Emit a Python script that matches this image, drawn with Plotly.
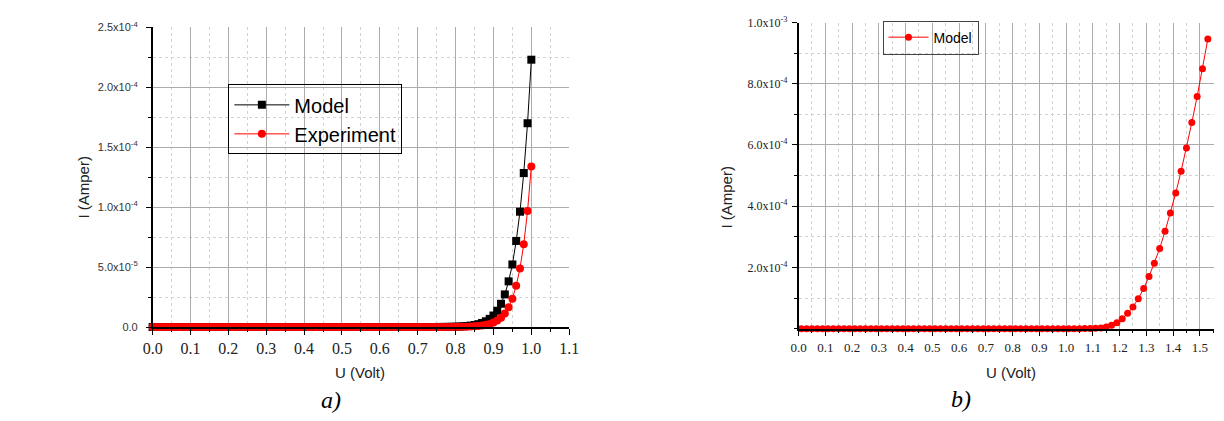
import plotly.graph_objects as go

# ---------------- data: panel a) ----------------
U_a = [0.00, 0.01, 0.02, 0.03, 0.04, 0.05, 0.06, 0.07, 0.08, 0.09,
       0.10, 0.11, 0.12, 0.13, 0.14, 0.15, 0.16, 0.17, 0.18, 0.19,
       0.20, 0.21, 0.22, 0.23, 0.24, 0.25, 0.26, 0.27, 0.28, 0.29,
       0.30, 0.31, 0.32, 0.33, 0.34, 0.35, 0.36, 0.37, 0.38, 0.39,
       0.40, 0.41, 0.42, 0.43, 0.44, 0.45, 0.46, 0.47, 0.48, 0.49,
       0.50, 0.51, 0.52, 0.53, 0.54, 0.55, 0.56, 0.57, 0.58, 0.59,
       0.60, 0.61, 0.62, 0.63, 0.64, 0.65, 0.66, 0.67, 0.68, 0.69,
       0.70, 0.71, 0.72, 0.73, 0.74, 0.75, 0.76, 0.77, 0.78, 0.79,
       0.80, 0.81, 0.82, 0.83, 0.84, 0.85, 0.86, 0.87, 0.88, 0.89,
       0.90, 0.91, 0.92, 0.93, 0.94, 0.95, 0.96, 0.97, 0.98, 0.99,
       1.00]

I_model_a = [0.0, 0.0, 0.0, 0.0, 0.0, 0.0, 0.0, 0.0, 0.0, 0.0,
             0.0, 0.0, 0.0, 0.0, 0.0, 0.0, 0.0, 0.0, 0.0, 0.0,
             0.0, 0.0, 0.0, 0.0, 0.0, 0.0, 0.0, 0.0, 0.0, 0.0,
             0.0, 0.0, 0.0, 0.0, 0.0, 0.0, 0.0, 0.0, 0.0, 0.0,
             0.0, 0.0, 0.0, 0.0, 0.0, 0.0, 0.0, 0.0, 0.0, 0.0,
             0.0, 0.0, 0.0, 0.0, 0.0, 0.0, 0.0, 0.0, 0.0, 0.0,
             0.0, 0.0, 0.0, 0.0, 0.0, 0.0, 0.0, 0.0, 0.0, 0.0,
             0.0, 0.0, 0.0, 0.0, 0.0, 5.0e-8, 7.0e-8, 1.0e-7, 1.5e-7, 2.1e-7,
             3.0e-7, 4.2e-7, 6.0e-7, 8.5e-7, 1.2e-6, 1.7e-6, 2.4e-6, 3.4e-6, 4.8e-6, 6.8e-6,
             9.6e-6, 1.36e-5, 1.94e-5, 2.72e-5, 3.81e-5, 5.22e-5, 7.18e-5, 9.62e-5, 1.285e-4, 1.70e-4,
             2.23e-4]

I_exp_a = [0.0, 0.0, 0.0, 0.0, 0.0, 0.0, 0.0, 0.0, 0.0, 0.0,
           0.0, 0.0, 0.0, 0.0, 0.0, 0.0, 0.0, 0.0, 0.0, 0.0,
           0.0, 0.0, 0.0, 0.0, 0.0, 0.0, 0.0, 0.0, 0.0, 0.0,
           0.0, 0.0, 0.0, 0.0, 0.0, 0.0, 0.0, 0.0, 0.0, 0.0,
           0.0, 0.0, 0.0, 0.0, 0.0, 0.0, 0.0, 0.0, 0.0, 0.0,
           0.0, 0.0, 0.0, 0.0, 0.0, 0.0, 0.0, 0.0, 0.0, 0.0,
           0.0, 0.0, 0.0, 0.0, 0.0, 0.0, 0.0, 0.0, 0.0, 0.0,
           0.0, 0.0, 0.0, 0.0, 0.0, 0.0, 0.0, 0.0, 5.0e-8, 7.0e-8,
           1.0e-7, 1.4e-7, 2.0e-7, 2.9e-7, 4.2e-7, 6.0e-7, 8.7e-7, 1.25e-6, 1.8e-6, 2.6e-6,
           3.7e-6, 5.4e-6, 7.8e-6, 1.13e-5, 1.64e-5, 2.36e-5, 3.44e-5, 4.89e-5, 6.91e-5, 9.68e-5,
           1.34e-4]

# ---------------- data: panel b) ----------------
U_b = [0.01, 0.03, 0.05, 0.07, 0.09, 0.11, 0.13, 0.15, 0.17, 0.19,
       0.21, 0.23, 0.25, 0.27, 0.29, 0.31, 0.33, 0.35, 0.37, 0.39,
       0.41, 0.43, 0.45, 0.47, 0.49, 0.51, 0.53, 0.55, 0.57, 0.59,
       0.61, 0.63, 0.65, 0.67, 0.69, 0.71, 0.73, 0.75, 0.77, 0.79,
       0.81, 0.83, 0.85, 0.87, 0.89, 0.91, 0.93, 0.95, 0.97, 0.99,
       1.01, 1.03, 1.05, 1.07, 1.09, 1.11, 1.13, 1.15, 1.17, 1.19,
       1.21, 1.23, 1.25, 1.27, 1.29, 1.31, 1.33, 1.35, 1.37, 1.39,
       1.41, 1.43, 1.45, 1.47, 1.49, 1.51, 1.53]

I_model_b = [0.0, 0.0, 0.0, 0.0, 0.0, 0.0, 0.0, 0.0, 0.0, 0.0,
             0.0, 0.0, 0.0, 0.0, 0.0, 0.0, 0.0, 0.0, 0.0, 0.0,
             0.0, 0.0, 0.0, 0.0, 0.0, 0.0, 0.0, 0.0, 0.0, 0.0,
             0.0, 0.0, 0.0, 0.0, 0.0, 0.0, 0.0, 0.0, 0.0, 0.0,
             0.0, 0.0, 0.0, 0.0, 0.0, 0.0, 0.0, 0.0, 0.0, 0.0,
             0.0, 0.0, 0.0, 1.5e-7, 4.0e-7, 1.0e-6, 2.5e-6, 5.5e-6, 1.1e-5, 1.9e-5,
             3.2e-5, 5.0e-5, 7.1e-5, 9.8e-5, 1.31e-4, 1.70e-4, 2.14e-4, 2.62e-4, 3.18e-4, 3.78e-4,
             4.43e-4, 5.14e-4, 5.90e-4, 6.73e-4, 7.58e-4, 8.49e-4, 9.46e-4]

# ---------------- tick labels ----------------
yvals_a = [0.0, 5.0e-5, 1.0e-4, 1.5e-4, 2.0e-4, 2.5e-4]
ytext_a = ["0.0", "5.0x10<sup>-5</sup>", "1.0x10<sup>-4</sup>", "1.5x10<sup>-4</sup>",
           "2.0x10<sup>-4</sup>", "2.5x10<sup>-4</sup>"]
yvals_b = [2.0e-4, 4.0e-4, 6.0e-4, 8.0e-4, 1.0e-3]
ytext_b = ["2.0x10<sup>-4</sup>", "4.0x10<sup>-4</sup>", "6.0x10<sup>-4</sup>",
           "8.0x10<sup>-4</sup>", "1.0x10<sup>-3</sup>"]

W, H = 1224, 421
SANS = "Liberation Sans, Arial, sans-serif"
SERIF = "Liberation Serif, Times New Roman, serif"


def fx(p):
    return p / W


def fy(p):
    return 1 - p / H


MAJ = "#ababab"
MIN = "#d2d2d2"

fig = go.Figure()

fig.add_trace(go.Scatter(
    x=U_a, y=I_model_a, mode="lines+markers", name="Model",
    line=dict(color="black", width=1),
    marker=dict(symbol="square", size=8, color="black"),
    xaxis="x", yaxis="y", legend="legend", cliponaxis=False))
fig.add_trace(go.Scatter(
    x=U_a, y=I_exp_a, mode="lines+markers", name="Experiment",
    line=dict(color="#ff0000", width=1),
    marker=dict(symbol="circle", size=8, color="#ff0000"),
    xaxis="x", yaxis="y", legend="legend", cliponaxis=False))
fig.add_trace(go.Scatter(
    x=U_b, y=I_model_b, mode="lines+markers", name="Model",
    line=dict(color="#ff0000", width=1),
    marker=dict(symbol="circle", size=7, color="#ff0000"),
    xaxis="x2", yaxis="y2", legend="legend2", cliponaxis=False))


def xax(domain, rng, fsize):
    return dict(domain=domain, range=rng, tick0=0, dtick=0.1, tickformat=".1f",
                showline=True, linecolor="black", linewidth=1.5,
                ticks="outside", ticklen=6, tickwidth=1.2, tickcolor="black",
                showgrid=True, gridcolor=MAJ, gridwidth=1, zeroline=False,
                minor=dict(dtick=0.05, ticks="outside", ticklen=3, tickcolor="black",
                           showgrid=True, gridcolor=MIN, griddash="dot", gridwidth=1),
                tickfont=dict(family=SERIF, size=fsize, color="#222"),
                fixedrange=True)


fig.update_layout(
    width=W, height=H, autosize=False,
    margin=dict(l=0, r=0, t=0, b=0),
    paper_bgcolor="white", plot_bgcolor="white",
    showlegend=True,
    xaxis=dict(xax([fx(145), fx(568.5)], [0, 1.1], 16), anchor="y"),
    yaxis=dict(domain=[fy(330), fy(20)], range=[0, 2.5e-4], anchor="x",
               tickvals=yvals_a, ticktext=ytext_a,
               showline=True, linecolor="black", linewidth=1.5,
               ticks="outside", ticklen=5, tickwidth=1.2, tickcolor="black",
               showgrid=True, gridcolor=MAJ, gridwidth=1, zeroline=False,
               minor=dict(dtick=2.5e-5, tick0=0, ticks="outside", ticklen=3, tickcolor="black",
                          showgrid=True, gridcolor=MIN, griddash="dot", gridwidth=1),
               tickfont=dict(family=SANS, size=11, color="#333"),
               ticklabelstandoff=6, fixedrange=True),
    xaxis2=dict(xax([fx(801.7), 1.0], [0, 1.553], 13), anchor="y2"),
    yaxis2=dict(domain=[fy(331.7), fy(15)], range=[0, 1.0e-3], anchor="x2",
                tickvals=yvals_b, ticktext=ytext_b,
                showline=True, linecolor="black", linewidth=1.5,
                ticks="outside", ticklen=5, tickwidth=1.2, tickcolor="black",
                showgrid=True, gridcolor=MAJ, gridwidth=1, zeroline=False,
                minor=dict(dtick=1.0e-4, tick0=0, ticks="outside", ticklen=3, tickcolor="black",
                           showgrid=True, gridcolor=MIN, griddash="dot", gridwidth=1),
                tickfont=dict(family=SERIF, size=12, color="#222"),
                ticklabelstandoff=2, fixedrange=True),
    legend=dict(x=fx(222), y=fy(79), xanchor="left", yanchor="top",
                bgcolor="rgba(0,0,0,0)", bordercolor="black", borderwidth=1,
                font=dict(family=SANS, size=20, color="black"),
                itemwidth=55, tracegroupgap=0),
    legend2=dict(x=fx(887), y=fy(13), xanchor="left", yanchor="top",
                 bgcolor="rgba(0,0,0,0)", bordercolor="#444", borderwidth=1,
                 font=dict(family=SANS, size=14, color="black"),
                 itemwidth=40),
)

annotations = [
    dict(text="I (Amper)", x=fx(75), y=fy(185), textangle=-90,
         font=dict(family=SANS, size=15, color="#222")),
    dict(text="U (Volt)", x=fx(356), y=fy(377),
         font=dict(family=SANS, size=15, color="#222")),
    dict(text="<i>a)</i>", x=fx(326), y=fy(405),
         font=dict(family=SERIF, size=24, color="black")),
    dict(text="I (Amper)", x=fx(728), y=fy(196), textangle=-90,
         font=dict(family=SANS, size=15, color="#222")),
    dict(text="U (Volt)", x=fx(1018), y=fy(377),
         font=dict(family=SANS, size=15, color="#222")),
    dict(text="<i>b)</i>", x=fx(967), y=fy(404),
         font=dict(family=SERIF, size=24, color="black")),
]
for a in annotations:
    a.update(xref="paper", yref="paper", showarrow=False, xanchor="center", yanchor="middle")
fig.update_layout(annotations=annotations)

fig.write_html("out.html")
